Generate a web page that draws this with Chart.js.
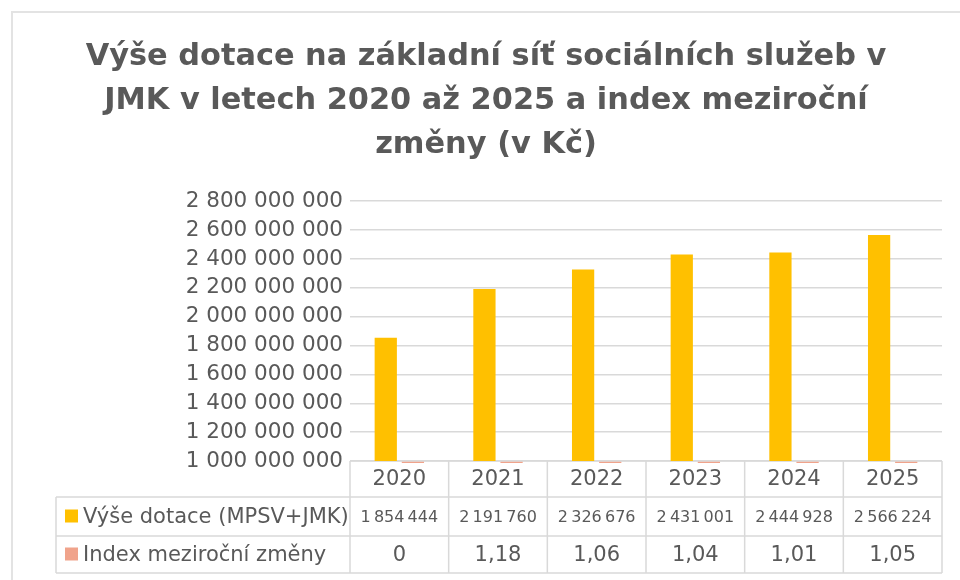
<!DOCTYPE html>
<html>
<head>
<meta charset="utf-8">
<script src="https://cdn.jsdelivr.net/npm/chart.js@4"></script>
<style>
html,body{margin:0;padding:0;background:#fff;}
#wrap{position:relative;width:960px;height:580px;}
</style>
</head>
<body>
<div id="wrap"><canvas id="c" width="960" height="580"></canvas></div>
<script>
const titleLines = ["Výše dotace na základní síť sociálních služeb v", "JMK v letech 2020 až 2025 a index meziroční", "změny (v Kč)"];
const years = ["2020", "2021", "2022", "2023", "2024", "2025"];
const seriesNames = ["Výše dotace (MPSV+JMK)", "Index meziroční změny"];
const dotace = [1854444000, 2191760000, 2326676000, 2431001000, 2444928000, 2566224000];
const indexZmeny = [0, 1.18, 1.06, 1.04, 1.01, 1.05];
const yMin = 1000000000, yMax = 2800000000, yStep = 200000000;
const colors = ["#FFC000", "#F0A38B"];

const TEXT = "#595959";
const LINE = "#d9d9d9";
const FONT = "'DejaVu Sans', sans-serif";

function spaced(n, sep) {
  return String(Math.round(n)).replace(/\B(?=(\d{3})+(?!\d))/g, sep);
}
function fmtIndex(v) {
  return v === 0 ? "0" : v.toFixed(2).replace(".", ",");
}

const frame = {
  id: "frame",
  beforeDraw(chart) {
    const ctx = chart.ctx;
    ctx.save();
    ctx.fillStyle = "#fff";
    ctx.fillRect(0, 0, chart.width, chart.height);
    ctx.strokeStyle = "#e3e3e3";
    ctx.lineWidth = 2;
    ctx.strokeRect(12, 12, 1000, 1000);
    ctx.restore();
  }
};

const TOP_ROW_END = 497, MID = 536, BOT = 573, LEFT_COL = 56;

const tableLines = {
  id: "tableLines",
  beforeDatasetsDraw(chart) {
    const ctx = chart.ctx;
    const x = chart.scales.x;
    const a = chart.chartArea;
    const n = years.length;
    ctx.save();
    ctx.strokeStyle = LINE;
    ctx.lineWidth = 1.5;
    ctx.beginPath();
    ctx.moveTo(a.left, a.bottom); ctx.lineTo(a.right, a.bottom);
    ctx.moveTo(LEFT_COL, TOP_ROW_END); ctx.lineTo(a.right, TOP_ROW_END);
    ctx.moveTo(LEFT_COL, MID); ctx.lineTo(a.right, MID);
    ctx.moveTo(LEFT_COL, BOT); ctx.lineTo(a.right, BOT);
    ctx.moveTo(LEFT_COL, TOP_ROW_END); ctx.lineTo(LEFT_COL, BOT);
    for (let i = 0; i <= n; i++) {
      const px = i === 0 ? a.left : (i === n ? a.right : (x.getPixelForValue(i - 1) + x.getPixelForValue(i)) / 2);
      ctx.moveTo(px, a.bottom); ctx.lineTo(px, BOT);
    }
    ctx.stroke();
    ctx.restore();
  }
};

const tableText = {
  id: "tableText",
  afterDraw(chart) {
    const ctx = chart.ctx;
    const x = chart.scales.x;
    const n = years.length;
    const rows = [(TOP_ROW_END + MID) / 2, (MID + BOT) / 2];
    ctx.save();
    ctx.textBaseline = "middle";
    ctx.textAlign = "left";
    ctx.font = "21px " + FONT;
    rows.forEach((cy, k) => {
      ctx.fillStyle = colors[k];
      ctx.fillRect(65, cy - 7, 13, 13);
      ctx.fillStyle = TEXT;
      ctx.fillText(seriesNames[k], 83, cy + 1);
    });
    ctx.textAlign = "center";
    ctx.fillStyle = TEXT;
    for (let i = 0; i < n; i++) {
      const cx = x.getPixelForValue(i);
      ctx.font = "16px " + FONT;
      ctx.fillText(spaced(dotace[i] / 1000, "\u2009"), cx, rows[0] + 1);
      ctx.font = "21px " + FONT;
      ctx.fillText(fmtIndex(indexZmeny[i]), cx, rows[1] + 1);
    }
    ctx.restore();
  }
};

new Chart(document.getElementById("c"), {
  type: "bar",
  data: {
    labels: years,
    datasets: [
      { label: seriesNames[0], data: dotace, backgroundColor: colors[0], barPercentage: 0.82, categoryPercentage: 0.55 },
      { label: seriesNames[1], data: indexZmeny, backgroundColor: colors[1], barPercentage: 0.82, categoryPercentage: 0.55, base: yMin, clip: 2 }
    ]
  },
  options: {
    responsive: false,
    animation: false,
    layout: { padding: { left: 12, right: 0, top: 0, bottom: 0 } },
    plugins: {
      legend: { display: false },
      tooltip: { enabled: false },
      title: {
        display: true,
        text: titleLines,
        color: TEXT,
        font: { family: FONT, size: 30.4, weight: "bold", lineHeight: 1.45 },
        padding: { top: 35, bottom: 34 }
      }
    },
    scales: {
      x: {
        grid: { display: false, drawTicks: false },
        border: { display: false },
        ticks: { color: TEXT, font: { family: FONT, size: 21 }, padding: 6 },
        afterFit(s) { s.height = 119; }
      },
      y: {
        beginAtZero: false,
        min: yMin,
        max: yMax,
        ticks: {
          stepSize: yStep,
          color: TEXT,
          font: { family: FONT, size: 21.5 },
          padding: 7,
          callback: v => spaced(v, " ")
        },
        grid: { color: LINE, lineWidth: 1.5, drawTicks: false },
        border: { display: false },
        afterFit(s) { s.width = 338; }
      },
      y2: {
        position: "right",
        display: true,
        grid: { display: false, drawTicks: false },
        border: { display: false },
        ticks: { display: false },
        afterFit(s) { s.width = 18; }
      }
    }
  },
  plugins: [frame, tableLines, tableText]
});
</script>
</body>
</html>
